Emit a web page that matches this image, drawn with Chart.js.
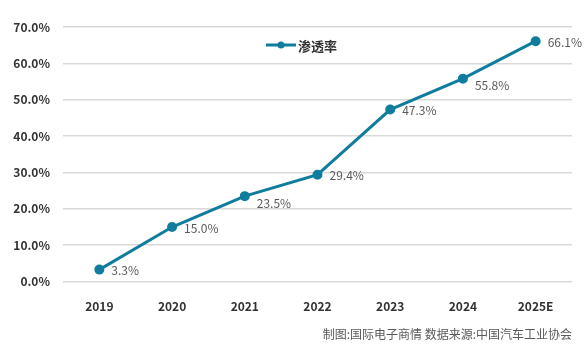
<!DOCTYPE html>
<html>
<head>
<meta charset="utf-8">
<script src="https://cdn.jsdelivr.net/npm/chart.js@4"></script>
<style>
    html, body { margin: 0; padding: 0; background: #fff; }
    #wrap { width: 588px; height: 353px; }
</style>
</head>
<body>
<div id="wrap"><canvas id="rateChart" width="588" height="353"></canvas></div>
<script>
// 渗透率 data
const years = ['2019', '2020', '2021', '2022', '2023', '2024', '2025E'];
const rates = [3.3, 15.0, 23.5, 29.4, 47.3, 55.8, 66.1];
const seriesName = '渗透率';
const footNote = '制图:国际电子商情 数据来源:中国汽车工业协会';

const lineColor = '#117d9e';
const fontFamily = '"Noto Sans CJK SC", "Noto Sans", sans-serif';

// value labels, right-below of each point
const valueLabels = {
    id: 'valueLabels',
    afterDatasetsDraw(chart) {
        const ctx = chart.ctx;
        const meta = chart.getDatasetMeta(0);
        ctx.save();
        ctx.font = '12px ' + fontFamily;
        ctx.fillStyle = '#595959';
        ctx.textAlign = 'left';
        ctx.textBaseline = 'middle';
        meta.data.forEach((pt, i) => {
            const dy = (i === 2 || i === 5) ? 7 : 1;
            ctx.fillText(rates[i].toFixed(1) + '%', pt.x + 12, pt.y + dy);
        });
        ctx.restore();
    }
};

// legend drawn inside the plot
const innerLegend = {
    id: 'innerLegend',
    afterDraw(chart) {
        const ctx = chart.ctx;
        const x = 266, y = 45;
        ctx.save();
        ctx.strokeStyle = lineColor;
        ctx.lineWidth = 3;
        ctx.beginPath();
        ctx.moveTo(x, y);
        ctx.lineTo(x + 30, y);
        ctx.stroke();
        ctx.fillStyle = lineColor;
        ctx.beginPath();
        ctx.arc(x + 15, y, 3.5, 0, Math.PI * 2);
        ctx.fill();
        ctx.font = 'bold 13px ' + fontFamily;
        ctx.fillStyle = '#333333';
        ctx.textBaseline = 'middle';
        ctx.fillText(seriesName, x + 32, y + 1);
        ctx.restore();
    }
};

new Chart(document.getElementById('rateChart'), {
    type: 'line',
    data: {
        labels: years,
        datasets: [{
            label: seriesName,
            data: rates,
            borderColor: lineColor,
            backgroundColor: lineColor,
            borderWidth: 3,
            pointRadius: 3.5,
            pointHoverRadius: 3.5,
            tension: 0
        }]
    },
    options: {
        responsive: false,
        animation: false,
        layout: {
            padding: { left: 0, right: 16, top: 27, bottom: 11 }
        },
        plugins: {
            legend: { display: false },
            tooltip: { enabled: false },
            title: {
                display: true,
                position: 'bottom',
                align: 'end',
                text: footNote,
                color: '#595959',
                font: { family: fontFamily, size: 12, weight: 'normal' },
                padding: { top: 16, bottom: 0 }
            }
        },
        scales: {
            x: {
                offset: true,
                grid: { display: false },
                border: { display: false },
                ticks: {
                    color: '#333333',
                    padding: 10,
                    font: { family: fontFamily, size: 12, weight: 'bold' }
                },
                afterFit(scale) { scale.height = 30; }
            },
            y: {
                min: 0,
                max: 70,
                grid: { color: '#d9d9d9', lineWidth: 1.5, drawTicks: false },
                border: { display: false },
                ticks: {
                    stepSize: 10,
                    color: '#333333',
                    padding: 13,
                    font: { family: fontFamily, size: 12, weight: 'bold' },
                    callback: v => v.toFixed(1) + '%'
                },
                afterFit(scale) { scale.width = 63; }
            }
        }
    },
    plugins: [valueLabels, innerLegend]
});
</script>
</body>
</html>
